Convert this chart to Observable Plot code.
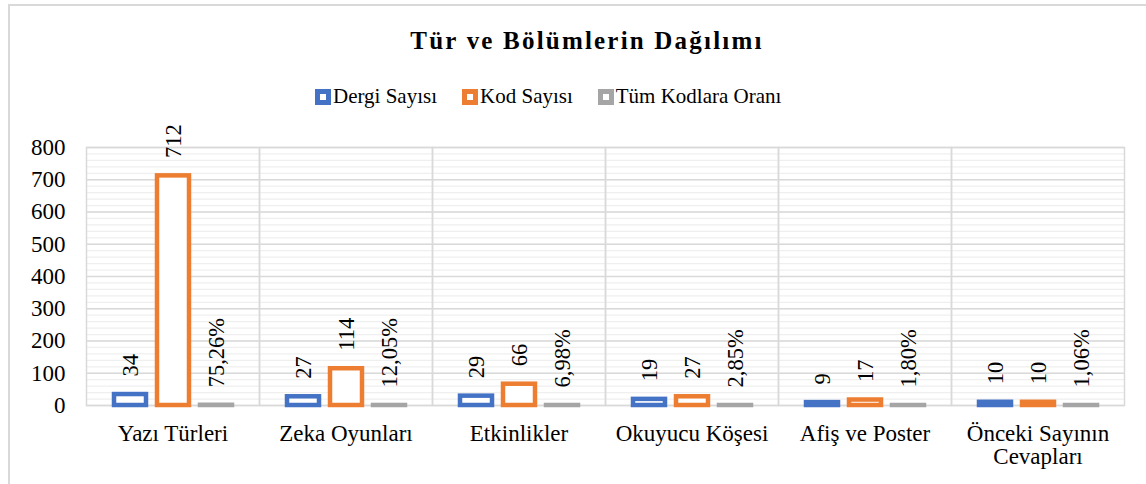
<!DOCTYPE html>
<html><head><meta charset="utf-8">
<script src="https://cdn.jsdelivr.net/npm/d3@7"></script>
<script src="https://cdn.jsdelivr.net/npm/@observablehq/plot@0.6"></script>
<style>
body{margin:0;background:#fff;font-family:'Liberation Serif',serif;}
#wrap{position:relative;width:1146px;height:484px;overflow:hidden;background:#fff;font-family:'Liberation Serif',serif;}
#border{position:absolute;left:8px;top:4px;width:1300px;height:700px;border:2px solid #d9d9d9;box-sizing:border-box;}
#title{position:absolute;top:28px;left:0;width:1174px;text-align:center;font-family:'Liberation Serif',serif;font-weight:bold;font-size:25px;line-height:25px;letter-spacing:2.2px;color:#000;}
#legend{position:absolute;top:86px;left:315px;display:flex;gap:25px;font-family:'Liberation Serif',serif;font-size:21px;line-height:21px;color:#000;white-space:nowrap;}
.item{display:flex;align-items:center;}
.sw{width:16px;height:16px;box-sizing:border-box;border:5px solid;background:#fff;margin-right:2px;}
#chart{position:absolute;left:0;top:115px;}
#chart svg, #chart svg text{font-family:'Liberation Serif',serif !important;}
</style>
</head><body>
<div id="wrap">
  <div id="border"></div>
  <div id="title">Tür ve Bölümlerin Dağılımı</div>
  <div id="legend"></div>
  <div id="chart"></div>
</div>
<script>
const categories = ["Yazı Türleri", "Zeka Oyunları", "Etkinlikler", "Okuyucu Köşesi", "Afiş ve Poster", "Önceki Sayının Cevapları"];
const categoryLabels = ["Yazı Türleri", "Zeka Oyunları", "Etkinlikler", "Okuyucu Köşesi", "Afiş ve Poster", "Önceki Sayının\nCevapları"];
const seriesNames = ["Dergi Sayısı", "Kod Sayısı", "Tüm Kodlara Oranı"];
const seriesColors = ["#4472C4", "#ED7D31", "#A5A5A5"];
const dergiSayisi = [34, 27, 29, 19, 9, 10];
const kodSayisi = [712, 114, 66, 27, 17, 10];
const tumKodlaraOrani = [0.7526, 0.1205, 0.0698, 0.0285, 0.0180, 0.0106];
const yTicks = [0, 100, 200, 300, 400, 500, 600, 700, 800];
const yMinorTicks = d3.range(0, 801, 20);

const pct = v => (v * 100).toFixed(2).replace(".", ",") + "%";
const rows = categories.flatMap((c, i) => [
  {cat: c, series: seriesNames[0], value: dergiSayisi[i], label: String(dergiSayisi[i])},
  {cat: c, series: seriesNames[1], value: kodSayisi[i], label: String(kodSayisi[i])},
  {cat: c, series: seriesNames[2], value: tumKodlaraOrani[i], label: pct(tumKodlaraOrani[i])}
]);

// legend
const lg = document.getElementById("legend");
seriesNames.forEach((s, i) => {
  const it = document.createElement("div");
  it.className = "item";
  const sw = document.createElement("div");
  sw.className = "sw";
  sw.style.borderColor = seriesColors[i];
  const t = document.createElement("span");
  t.textContent = s;
  it.appendChild(sw); it.appendChild(t);
  lg.appendChild(it);
});

const chart = Plot.plot({
  width: 1146,
  height: 369,
  marginTop: 32,
  marginBottom: 79,
  marginLeft: 83,
  marginRight: 20,
  style: {fontFamily: "'Liberation Serif', serif", fontSize: "23px", color: "#000", background: "transparent", overflow: "visible"},
  facet: {data: rows, x: "cat"},
  fx: {domain: categories, padding: 0, axis: "bottom", label: null, tickSize: 0, tickPadding: 19,
       tickFormat: c => categoryLabels[categories.indexOf(c)]},
  x: {domain: seriesNames, paddingInner: 0.26, paddingOuter: 0.605, axis: null},
  y: {domain: [0, 800], ticks: yTicks, tickSize: 0, tickPadding: 21, label: null},
  color: {domain: seriesNames, range: seriesColors},
  marks: [
    Plot.ruleY(yMinorTicks, {stroke: "#efefef", strokeWidth: 1.2}),
    Plot.ruleY(yTicks, {stroke: "#d9d9d9", strokeWidth: 1.5}),
    Plot.frame({stroke: "#d9d9d9", strokeWidth: 1.5}),
    Plot.barY(rows, {x: "series", y: "value", fill: "white", stroke: "series", strokeWidth: 4.5}),
    Plot.text(rows, {x: "series", y: "value", text: "label", rotate: -90, textAnchor: "start", lineAnchor: "middle", dy: -18, fontSize: 22.5, fill: "#000"})
  ]
});
document.getElementById("chart").appendChild(chart);
</script>
</body></html>
